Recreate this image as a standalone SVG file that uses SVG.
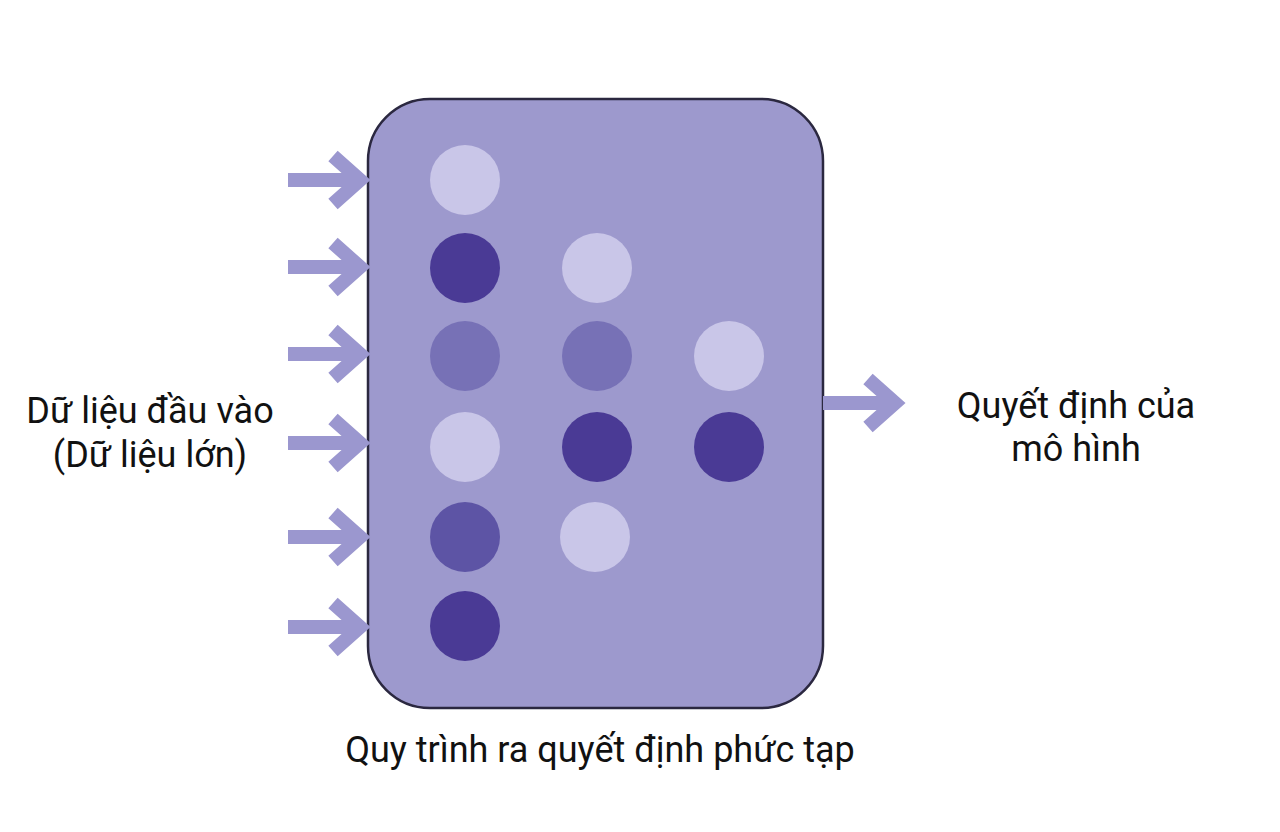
<svg xmlns="http://www.w3.org/2000/svg" width="1280" height="832" viewBox="0 0 1280 832">
<defs>
<style>
.arr{fill:none;stroke:#9b97cf;stroke-width:14;stroke-linejoin:miter;stroke-linecap:butt}
.lbl{font-family:Roboto,"Noto Sans","Liberation Sans",sans-serif;font-size:36px;fill:#111;text-anchor:middle}
.light{fill:#c9c6e8}
.dark{fill:#4a3a95}
.mid{fill:#7771b6}
.mdark{fill:#5d54a5}
</style>
</defs>
<rect width="1280" height="832" fill="#ffffff"/>
<g id="process-box">
<rect x="368" y="99" width="455" height="609" rx="62" ry="62" fill="#9d99cd" stroke="#2b2840" stroke-width="2.5"/>
</g>
<g id="nodes">
<circle id="n1-1" cx="465" cy="180" r="35" class="light"/>
<circle id="n1-2" cx="465" cy="268" r="35" class="dark"/>
<circle id="n1-3" cx="465" cy="356" r="35" class="mid"/>
<circle id="n1-4" cx="465" cy="447" r="35" class="light"/>
<circle id="n1-5" cx="465" cy="537" r="35" class="mdark"/>
<circle id="n1-6" cx="465" cy="626" r="35" class="dark"/>
<circle id="n2-1" cx="597" cy="268" r="35" class="light"/>
<circle id="n2-2" cx="597" cy="356" r="35" class="mid"/>
<circle id="n2-3" cx="597" cy="447" r="35" class="dark"/>
<circle id="n2-4" cx="595" cy="537" r="35" class="light"/>
<circle id="n3-1" cx="729" cy="356" r="35" class="light"/>
<circle id="n3-2" cx="729" cy="447" r="35" class="dark"/>
</g>
<g id="connectors">
<g class="arr">
<path d="M288 180H358M333 156L360 180L333 204"/>
<path d="M288 267H358M333 243L360 267L333 291"/>
<path d="M288 354H358M333 330L360 354L333 378"/>
<path d="M288 443H358M333 419L360 443L333 467"/>
<path d="M288 537H358M333 513L360 537L333 561"/>
<path d="M288 627H358M333 603L360 627L333 651"/>
<path d="M823 403H893M868 379L895 403L868 427"/>
</g>
</g>
<g id="input-label">
<text class="lbl" x="150" y="423">Dữ liệu đầu vào</text>
<text class="lbl" x="150" y="467">(Dữ liệu lớn)</text>
</g>
<g id="output-label">
<text class="lbl" x="1076" y="418">Quyết định của</text>
<text class="lbl" x="1076" y="461">mô hình</text>
</g>
<g id="process-label">
<text class="lbl" x="600" y="762">Quy trình ra quyết định phức tạp</text>
</g>
</svg>
